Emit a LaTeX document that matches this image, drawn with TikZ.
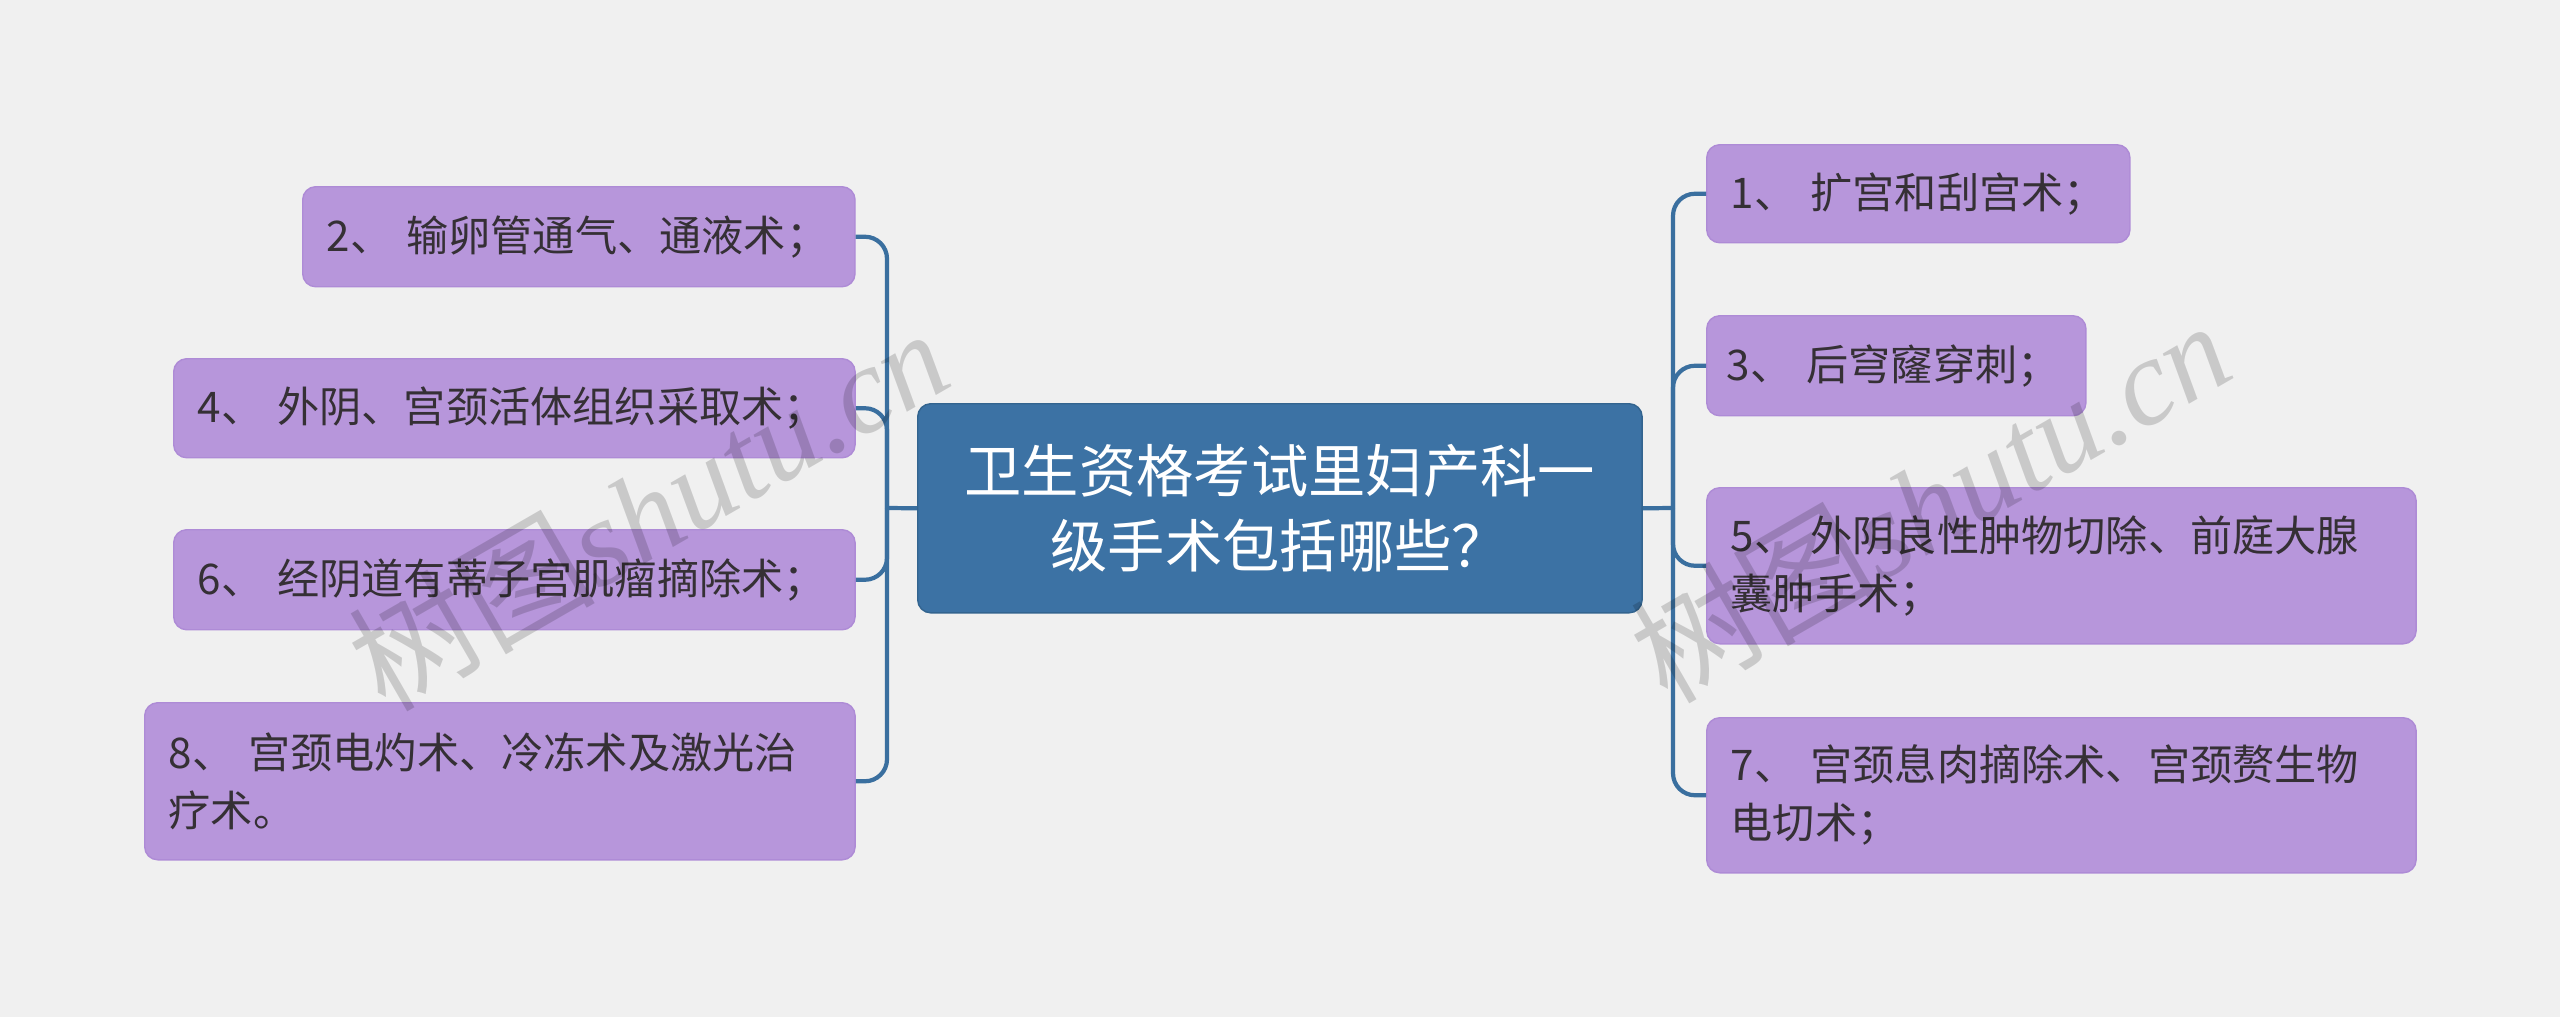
\documentclass[tikz,border=0pt]{standalone}
\usepackage{fontspec}
\usepackage{tikz}
\newfontfamily\cjk{Noto Sans CJK SC}
\newfontfamily\wmserif{Liberation Serif}
\definecolor{bgcol}{HTML}{F0F0F0}
\definecolor{topicfill}{HTML}{3C72A4}
\definecolor{topicedge}{HTML}{33648F}
\definecolor{leaffill}{HTML}{B796DB}
\definecolor{leafedge}{HTML}{AE8BD6}
\definecolor{leaftext}{HTML}{353035}
\definecolor{linkcol}{HTML}{3A6F9F}

\begin{document}
\begin{tikzpicture}[x=0.01cm, y=-0.01cm,
    topic/.style={draw=topicedge, fill=topicfill, rounded corners=1.3mm, text=white,
        font=\cjk\fontsize{16.3}{21.3}\selectfont, align=center,
        minimum width=7.24cm, minimum height=2.09cm, anchor=north west},
    leaf/.style={draw=leafedge, fill=leaffill, rounded corners=1.3mm, text=leaftext,
        font=\cjk\fontsize{12}{16.4}\selectfont, align=left,
        inner xsep=0.24cm, inner ysep=0pt, anchor=north west},
    link/.style={draw=linkcol, line width=1.2pt},
    watermark/.style={text=black, opacity=0.16, rotate=30, inner sep=0pt}]
    % Фон
    \fill[bgcol] (0,0) rectangle (2560,1017);

    % Центральная тема
    \node[topic] (topic) at (917,403) {卫生资格考试里妇产科一\\级手术包括哪些？};

    % Левая ветка
    \node[leaf, text width=5.04cm, minimum height=1.00cm] (op2) at (302,186) {2、 输卵管通气、通液术；};
    \node[leaf, text width=6.33cm, minimum height=0.99cm] (op4) at (173,358) {4、 外阴、宫颈活体组织采取术；};
    \node[leaf, text width=6.33cm, minimum height=1.00cm] (op6) at (173,529) {6、 经阴道有蒂子宫肌瘤摘除术；};
    \node[leaf, text width=6.62cm, minimum height=1.57cm] (op8) at (144,702) {8、 宫颈电灼术、冷冻术及激光治\\疗术。};

    % Правая ветка
    \node[leaf, text width=3.75cm, minimum height=0.98cm] (op1) at (1706,144) {1、 扩宫和刮宫术；};
    \node[leaf, text width=3.39cm, inner xsep=0.2cm, minimum height=1.00cm] (op3) at (1706,315) {\mbox{3、 后穹窿穿刺；}};
    \node[leaf, text width=6.61cm, minimum height=1.56cm] (op5) at (1706,487) {5、 外阴良性肿物切除、前庭大腺\\囊肿手术；};
    \node[leaf, text width=6.61cm, minimum height=1.55cm] (op7) at (1706,717) {7、 宫颈息肉摘除术、宫颈赘生物\\电切术；};

    % Соединения
    \coordinate (jl) at (887,508);
    \coordinate (jr) at (1673,508);
    \draw[link] (topic.west) -- (jl);
    \draw[link] (topic.east) -- (jr);
    \foreach \n in {op2,op4,op6,op8}
        \draw[link, rounded corners=2.2mm] (jl) |- (\n.east);
    \foreach \n in {op1,op3,op5,op7}
        \draw[link, rounded corners=2.2mm] (jr) |- (\n.west);

    % Водяные знаки
    \node[watermark] (wmL) at (648,508) {\fontsize{35}{35}\selectfont\cjk 树图\wmserif\itshape shutu.cn};
    \node[watermark] (wmR) at (1930,500) {\fontsize{35}{35}\selectfont\cjk 树图\wmserif\itshape shutu.cn};
\end{tikzpicture}
\end{document}
